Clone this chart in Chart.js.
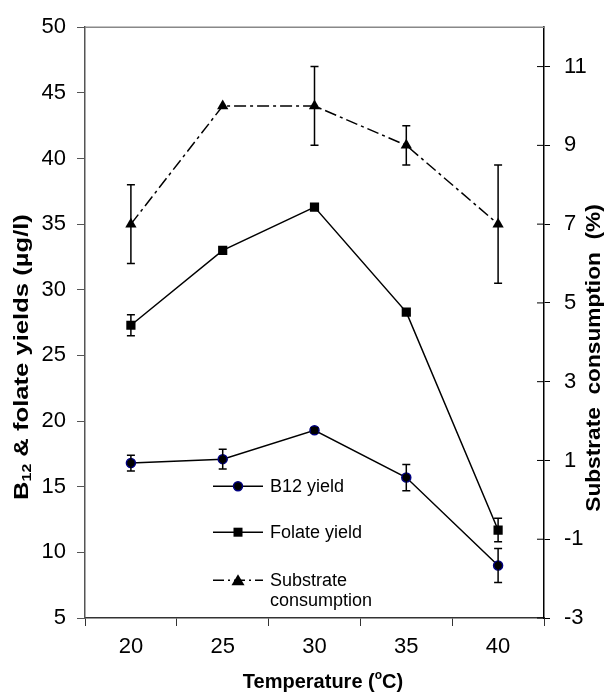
<!DOCTYPE html>
<html>
<head>
<meta charset="utf-8">
<script src="https://cdn.jsdelivr.net/npm/chart.js@4/dist/chart.umd.min.js"></script>
<style>
  body { margin: 0; background: #fff; }
  #wrap { width: 608px; height: 694px; }
</style>
</head>
<body>
<div id="wrap"><canvas id="myChart"></canvas></div>
<script>
// values
const temperatures = ['20', '25', '30', '35', '40'];
const b12Yield = [16.8, 17.1, 19.3, 15.7, 9.0];
const b12Err = [0.6, 0.75, 0.2, 1.0, 1.3];
const folateYield = [27.3, 33.0, 36.3, 28.3, 11.7];
const folateErr = [0.8, 0, 0, 0, 0.9];
const substrate = [7, 10, 10, 9, 7];
const substrateErr = [1, 0, 1, 0.5, 1.5];
const rightTicks = [-3, -1, 1, 3, 5, 7, 9, 11];

const FONT = "'Liberation Sans', Arial, sans-serif";

// error bars, drawn through the chart scales
const errorBars = {
  id: 'errorBars',
  afterDatasetsDraw(chart) {
    const ctx = chart.ctx;
    ctx.save();
    ctx.strokeStyle = '#000';
    ctx.lineWidth = 1.5;
    chart.data.datasets.forEach((ds, i) => {
      if (!ds.errors) return;
      const meta = chart.getDatasetMeta(i);
      const scale = chart.scales[ds.yAxisID];
      meta.data.forEach((pt, j) => {
        const e = ds.errors[j];
        if (!e) return;
        const yTop = scale.getPixelForValue(ds.data[j] + e);
        const yBot = scale.getPixelForValue(ds.data[j] - e);
        ctx.beginPath();
        ctx.moveTo(pt.x, yTop); ctx.lineTo(pt.x, yBot);
        ctx.moveTo(pt.x - 4, yTop); ctx.lineTo(pt.x + 4, yTop);
        ctx.moveTo(pt.x - 4, yBot); ctx.lineTo(pt.x + 4, yBot);
        ctx.stroke();
      });
    });
    ctx.restore();
  }
};

function runsWidth(ctx, runs) {
  let w = 0;
  runs.forEach(r => { ctx.font = r.font; w += ctx.measureText(r.t).width; });
  return w;
}
function drawRuns(ctx, runs, x, y) {
  runs.forEach(r => {
    ctx.font = r.font;
    ctx.fillText(r.t, x, y + (r.dy || 0));
    x += ctx.measureText(r.t).width;
  });
}

// axis titles, top frame line, right-axis inner ticks and the legend
const decorations = {
  id: 'decorations',
  afterDraw(chart) {
    const ctx = chart.ctx;
    const a = chart.chartArea;
    ctx.save();
    ctx.fillStyle = '#000';
    ctx.textBaseline = 'middle';
    ctx.textAlign = 'left';

    // top frame
    ctx.strokeStyle = '#888';
    ctx.lineWidth = 1.5;
    ctx.beginPath(); ctx.moveTo(a.left, a.top); ctx.lineTo(a.right, a.top); ctx.stroke();

    // right axis ticks cross the axis line
    const y2 = chart.scales.y2;
    ctx.strokeStyle = '#000';
    ctx.lineWidth = 1;
    y2.ticks.forEach(t => {
      const py = y2.getPixelForValue(t.value);
      ctx.beginPath(); ctx.moveTo(a.right - 7, py); ctx.lineTo(a.right, py); ctx.stroke();
    });

    const bold = 'bold 21px ' + FONT;
    // left title
    const left = [
      { t: 'B', font: bold },
      { t: '12', font: 'bold 13px ' + FONT, dy: 5 },
      { t: ' & folate yields (\u00b5g/l)', font: bold }
    ];
    ctx.save();
    ctx.translate(22, 357);
    ctx.rotate(-Math.PI / 2);
    ctx.scale(1.22, 1);
    drawRuns(ctx, left, -runsWidth(ctx, left) / 2, 0);
    ctx.restore();

    // right title
    const right = [{ t: 'Substrate  consumption  (%)', font: bold }];
    ctx.save();
    ctx.translate(594, 358);
    ctx.rotate(-Math.PI / 2);
    ctx.scale(1.08, 1);
    drawRuns(ctx, right, -runsWidth(ctx, right) / 2, 0);
    ctx.restore();

    // x title
    const xt = [
      { t: 'Temperature (', font: 'bold 20px ' + FONT },
      { t: 'o', font: 'bold 12px ' + FONT, dy: -6 },
      { t: 'C)', font: 'bold 20px ' + FONT }
    ];
    drawRuns(ctx, xt, 323 - runsWidth(ctx, xt) / 2, 682);

    // legend
    const lx = a.left + 128, mx = lx + 25, tx = lx + 57;
    const rows = [a.top + 459, a.top + 505, a.top + 553];
    ctx.strokeStyle = '#000';
    ctx.lineWidth = 1.5;
    ctx.font = '18px ' + FONT;
    // B12
    ctx.beginPath(); ctx.moveTo(lx, rows[0]); ctx.lineTo(lx + 50, rows[0]); ctx.stroke();
    ctx.beginPath(); ctx.arc(mx, rows[0], 4.5, 0, Math.PI * 2);
    ctx.fillStyle = '#000'; ctx.fill();
    ctx.strokeStyle = '#000080'; ctx.stroke();
    ctx.strokeStyle = '#000';
    ctx.fillText('B12 yield', tx, rows[0] + 1);
    // folate
    ctx.beginPath(); ctx.moveTo(lx, rows[1]); ctx.lineTo(lx + 50, rows[1]); ctx.stroke();
    ctx.fillRect(mx - 4.5, rows[1] - 4.5, 9, 9);
    ctx.fillText('Folate yield', tx, rows[1] + 1);
    // substrate
    ctx.setLineDash([11, 4, 2, 4]);
    ctx.beginPath(); ctx.moveTo(lx, rows[2]); ctx.lineTo(lx + 50, rows[2]); ctx.stroke();
    ctx.setLineDash([]);
    ctx.beginPath();
    ctx.moveTo(mx, rows[2] - 6); ctx.lineTo(mx + 6.5, rows[2] + 5); ctx.lineTo(mx - 6.5, rows[2] + 5);
    ctx.closePath(); ctx.fill();
    ctx.fillText('Substrate', tx, rows[2] + 1);
    ctx.fillText('consumption', tx, rows[2] + 21);

    ctx.restore();
  }
};

const ctx = document.getElementById('myChart').getContext('2d');

const myChart = new Chart(ctx, {
  type: 'line',
  data: {
    labels: temperatures,
    datasets: [{
      label: 'B12 yield',
      data: b12Yield,
      errors: b12Err,
      yAxisID: 'y',
      borderColor: '#000',
      borderWidth: 1.5,
      pointStyle: 'circle',
      pointRadius: 4.5,
      pointBackgroundColor: '#000',
      pointBorderColor: '#000080',
      pointBorderWidth: 1.5
    }, {
      label: 'Folate yield',
      data: folateYield,
      errors: folateErr,
      yAxisID: 'y',
      borderColor: '#000',
      borderWidth: 1.5,
      pointStyle: 'rect',
      pointRadius: 6.5,
      pointBackgroundColor: '#000',
      pointBorderColor: '#000',
      pointBorderWidth: 0
    }, {
      label: 'Substrate consumption',
      data: substrate,
      errors: substrateErr,
      yAxisID: 'y2',
      borderColor: '#000',
      borderWidth: 1.5,
      borderDash: [12, 4, 3, 4],
      pointStyle: 'triangle',
      pointRadius: 6.5,
      pointBackgroundColor: '#000',
      pointBorderColor: '#000',
      pointBorderWidth: 0
    }]
  },
  options: {
    responsive: true,
    maintainAspectRatio: false,
    animation: false,
    layout: { padding: { top: 24, left: 0, right: 0, bottom: 0 } },
    plugins: {
      legend: { display: false },
      tooltip: { enabled: false }
    },
    scales: {
      x: {
        type: 'category',
        offset: true,
        grid: { offset: true, drawOnChartArea: false, drawTicks: true, tickLength: 8, color: '#333', lineWidth: 1 },
        border: { display: true, color: '#333', width: 1.5 },
        ticks: { color: '#000', padding: 8, font: { family: FONT, size: 22 } },
        afterFit(s) { s.height = 76; }
      },
      y: {
        position: 'left',
        min: 5,
        max: 50,
        ticks: { stepSize: 5, color: '#000', padding: 11, font: { family: FONT, size: 22 } },
        grid: { drawOnChartArea: false, drawTicks: true, tickLength: 8, color: '#555', lineWidth: 1 },
        border: { display: true, color: '#555', width: 1.5 },
        afterFit(s) { s.width = 85; }
      },
      y2: {
        position: 'right',
        min: -3,
        max: 12,
        afterBuildTicks(s) { s.ticks = rightTicks.map(v => ({ value: v })); },
        ticks: { color: '#000', padding: 14, font: { family: FONT, size: 22 } },
        grid: { drawOnChartArea: false, drawTicks: true, tickLength: 6, color: '#000', lineWidth: 1 },
        border: { display: true, color: '#000', width: 1.5 },
        afterFit(s) { s.width = 64; }
      }
    }
  },
  plugins: [errorBars, decorations]
});
</script>
</body>
</html>
